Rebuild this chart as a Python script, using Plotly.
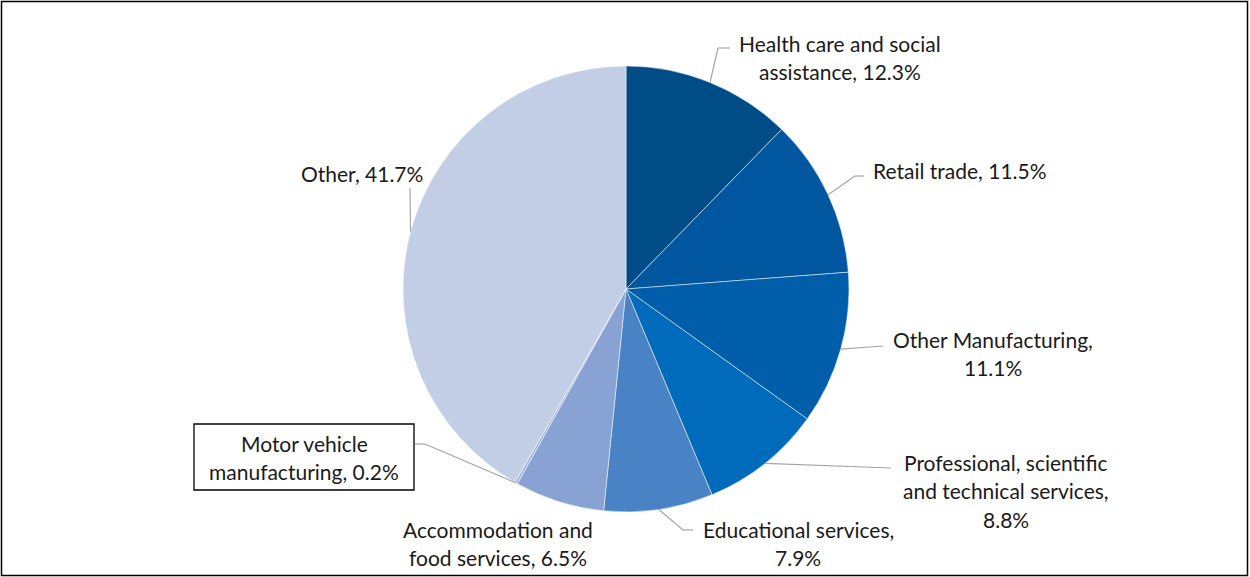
import math
import plotly.graph_objects as go

# Share of employment by industry (percent)
categories = [
    "Health care and social assistance",
    "Retail trade",
    "Other Manufacturing",
    "Professional, scientific and technical services",
    "Educational services",
    "Accommodation and food services",
    "Motor vehicle manufacturing",
    "Other",
]
shares = [12.3, 11.5, 11.1, 8.8, 7.9, 6.5, 0.2, 41.7]
colors = ["#004C87", "#0057A0", "#005DAA", "#006BBA",
          "#4A82C6", "#87A2D3", "#A3B5DD", "#C2CEE6"]

W, H = 1250, 577
CX, CY, R = 626, 289, 223          # pie centre and radius in pixels

FONT = "Lato"
FS = 21
TXT = "#1A1A1A"
LEAD = "#A6A6A6"

# Label layout: text lines ({v} is filled with the share), centre x, first-line y,
# and the leader path after it leaves the slice rim.
label_layout = {
    "Health care and social assistance": dict(
        lines=["Health care and social", "assistance, {v}%"], x=840, y=43,
        path=[(718, 48), (730, 48)]),
    "Retail trade": dict(
        lines=["Retail trade, {v}%"], x=960, y=170,
        path=[(855, 176), (864, 176)]),
    "Other Manufacturing": dict(
        lines=["Other Manufacturing,", "{v}%"], x=993, y=339,
        path=[(883, 346)]),
    "Professional, scientific and technical services": dict(
        lines=["Professional, scientific", "and technical services,", "{v}%"],
        x=1006, y=462, path=[(891, 468)]),
    "Educational services": dict(
        lines=["Educational services,", "{v}%"], x=798, y=529,
        path=[(683, 530), (693, 530)]),
    "Accommodation and food services": dict(
        lines=["Accommodation and", "food services, {v}%"], x=498, y=529,
        path=None),
    "Motor vehicle manufacturing": dict(
        lines=["Motor vehicle", "manufacturing, {v}%"], x=304, y=443,
        path=[(425, 444), (415, 444)], box=(194, 424, 414, 490)),
    "Other": dict(
        lines=["Other, {v}%"], x=362, y=173,
        path=[(410, 188)]),
}
PITCH = 28.5

fig = go.Figure()

fig.add_trace(go.Pie(
    labels=categories,
    values=shares,
    sort=False,
    direction="clockwise",
    rotation=0,
    marker=dict(colors=colors, line=dict(color="#FFFFFF", width=0.5)),
    textinfo="none",
    hoverinfo="label+percent",
    showlegend=False,
    domain=dict(x=[(CX - R) / W, (CX + R) / W],
                y=[1 - (CY + R) / H, 1 - (CY - R) / H]),
))

# Invisible pixel-space axes for leader lines and labels
fig.update_layout(
    xaxis=dict(range=[0, W], visible=False, fixedrange=True),
    yaxis=dict(range=[H, 0], visible=False, fixedrange=True),
)
fig.add_trace(go.Scatter(x=[None], y=[None], showlegend=False, hoverinfo="skip"))

shapes = []
annotations = []
total = sum(shares)
cum = 0.0
for cat, v in zip(categories, shares):
    mid = (cum + v / 2) / total * 2 * math.pi
    cum += v
    rx = CX + R * math.sin(mid)
    ry = CY - R * math.cos(mid)
    spec = label_layout[cat]
    if spec.get("path"):
        pts = [(rx, ry)] + spec["path"]
        for (x0, y0), (x1, y1) in zip(pts[:-1], pts[1:]):
            shapes.append(dict(type="line", xref="x", yref="y",
                               x0=x0, y0=y0, x1=x1, y1=y1,
                               line=dict(color=LEAD, width=1.2)))
    if spec.get("box"):
        bx0, by0, bx1, by1 = spec["box"]
        shapes.append(dict(type="rect", xref="x", yref="y",
                           x0=bx0, y0=by0, x1=bx1, y1=by1,
                           line=dict(color="#000000", width=1.3),
                           fillcolor="rgba(0,0,0,0)"))
    for i, line in enumerate(spec["lines"]):
        annotations.append(dict(
            x=spec["x"], y=spec["y"] + i * PITCH, xref="x", yref="y",
            text=line.format(v=f"{v:.1f}"), showarrow=False,
            xanchor="center", yanchor="middle",
            font=dict(family=FONT, size=FS, color=TXT)))

# Outer frame
shapes.append(dict(type="rect", xref="paper", yref="paper",
                   x0=1.5 / W, y0=1 - 575.5 / H, x1=1247.5 / W, y1=1 - 1.5 / H,
                   line=dict(color="#000000", width=1.5)))

fig.update_layout(
    width=W, height=H,
    margin=dict(l=0, r=0, t=0, b=0),
    paper_bgcolor="#FFFFFF",
    plot_bgcolor="rgba(0,0,0,0)",
    shapes=shapes,
    annotations=annotations,
    showlegend=False,
)

fig.write_html("out.html", config={"displayModeBar": False})
